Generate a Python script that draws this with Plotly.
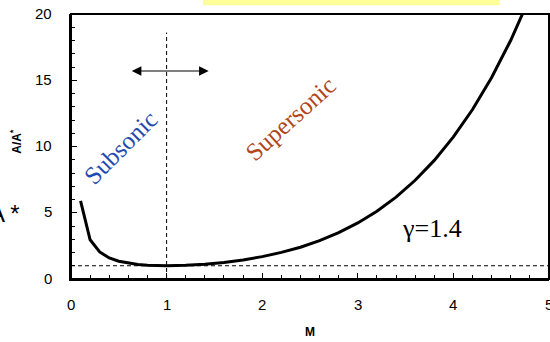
import plotly.graph_objects as go

# Data (area-Mach number relation, gamma = 1.4)
mach = [0.1, 0.2, 0.3, 0.4, 0.5, 0.6, 0.7, 0.8, 0.9, 1.0, 1.2, 1.4, 1.6, 1.8,
        2.0, 2.2, 2.4, 2.6, 2.8, 3.0, 3.2, 3.4, 3.6, 3.8, 4.0, 4.2, 4.4, 4.6, 4.8]
area_ratio = [5.9, 2.96, 2.04, 1.59, 1.34, 1.19, 1.09, 1.04, 1.01, 1.0, 1.03, 1.11,
              1.25, 1.44, 1.69, 2.01, 2.40, 2.90, 3.50, 4.23, 5.12, 6.18, 7.45,
              8.95, 10.72, 12.79, 15.21, 18.02, 21.26]

x_range = [0, 5]
y_range = [0, 20]
x_major, x_minor = 1, 0.2
y_major, y_minor = 5, 1
x_tick_labels = [0, 1, 2, 3, 4, 5]
y_tick_labels = [0, 5, 10, 15, 20]

sonic_mach = [1.0, 1.0]
sonic_line_y = [0, 18.6]
ref_ratio = [1.0, 1.0]
ref_line_x = [0, 5]
arrow_x = [0.62, 1.44]
arrow_y = 15.7

fig = go.Figure()

fig.add_trace(go.Scatter(x=ref_line_x, y=ref_ratio, mode="lines",
                         line=dict(color="black", width=1, dash="4px,3px"),
                         hoverinfo="skip", showlegend=False))
fig.add_trace(go.Scatter(x=sonic_mach, y=sonic_line_y, mode="lines",
                         line=dict(color="black", width=1, dash="4px,3px"),
                         hoverinfo="skip", showlegend=False))
fig.add_trace(go.Scatter(x=mach, y=area_ratio, mode="lines",
                         line=dict(color="black", width=3),
                         showlegend=False))

tick_font = dict(family="Liberation Sans", size=15, color="black")
annotations = []
for v in x_tick_labels:
    annotations.append(dict(x=v, y=-0.098, xref="x", yref="paper", text=str(v),
                            showarrow=False, xanchor="center", yanchor="middle",
                            font=tick_font))
for v in y_tick_labels:
    annotations.append(dict(x=-0.036, y=v, xref="paper", yref="y", text=str(v),
                            showarrow=False, xanchor="right", yanchor="middle",
                            yshift=1, font=tick_font))

annotations += [
    dict(x=arrow_x[1], y=arrow_y, ax=arrow_x[0], ay=arrow_y, xref="x", yref="y",
         axref="x", ayref="y", text="", showarrow=True, arrowhead=2,
         arrowside="end+start", arrowsize=1.6, arrowwidth=1.2, arrowcolor="black"),
    dict(x=0.52, y=9.9, xref="x", yref="y", text="Subsonic", showarrow=False,
         textangle=-45, font=dict(family="Liberation Serif", size=25, color="#1f4bb0")),
    dict(x=2.30, y=12.1, xref="x", yref="y", text="Supersonic", showarrow=False,
         textangle=-42, font=dict(family="Liberation Serif", size=25, color="#b0461a")),
    dict(x=3.78, y=3.8, xref="x", yref="y", text="γ=1.4", showarrow=False,
         font=dict(family="Liberation Serif", size=26, color="black")),
    dict(x=-0.135, y=0.52, xref="paper", yref="paper", text="<b>A/A<sup>*</sup></b>",
         showarrow=False, textangle=-90,
         font=dict(family="Liberation Sans", size=12, color="black")),
    dict(x=0.5, y=-0.235, xref="paper", yref="paper", text="<b>M</b>",
         showarrow=False, font=dict(family="Liberation Sans", size=12, color="black")),
    dict(x=-0.103, y=0.19, xref="paper", yref="paper", text="A *", xanchor="right",
         showarrow=False, font=dict(family="Liberation Sans", size=24, color="black")),
]

shapes = [
    # plot frame
    dict(type="rect", xref="paper", yref="paper", x0=0, x1=1, y0=0, y1=1,
         line=dict(color="black", width=2), fillcolor="rgba(0,0,0,0)", layer="above"),
    # yellow banner fragment at top
    dict(type="rect", xref="paper", yref="paper", x0=0.276, x1=0.897,
         y0=1.033, y1=1.07, fillcolor="#ffff99", line=dict(width=0), layer="above"),
]

axis_common = dict(
    ticks="inside", ticklen=6, tickwidth=1, tickcolor="black",
    showgrid=False, zeroline=False, showline=True, linewidth=2,
    linecolor="black", showticklabels=False,
)

fig.update_layout(
    width=550, height=342,
    margin=dict(l=71, r=1, t=14, b=63, autoexpand=False),
    paper_bgcolor="white", plot_bgcolor="white",
    annotations=annotations, shapes=shapes,
    font=dict(family="Liberation Sans", size=14, color="black"),
    xaxis=dict(range=x_range, tickmode="linear", tick0=0, dtick=x_major,
               minor=dict(dtick=x_minor, ticks="inside", ticklen=4, tickcolor="black"),
               **axis_common),
    yaxis=dict(range=y_range, tickmode="linear", tick0=0, dtick=y_major,
               minor=dict(dtick=y_minor, ticks="inside", ticklen=4, tickcolor="black"),
               **axis_common),
)

fig.write_html("out.html", config={"displayModeBar": False},
               post_script="document.body.style.margin='0';document.body.style.overflow='hidden';")
